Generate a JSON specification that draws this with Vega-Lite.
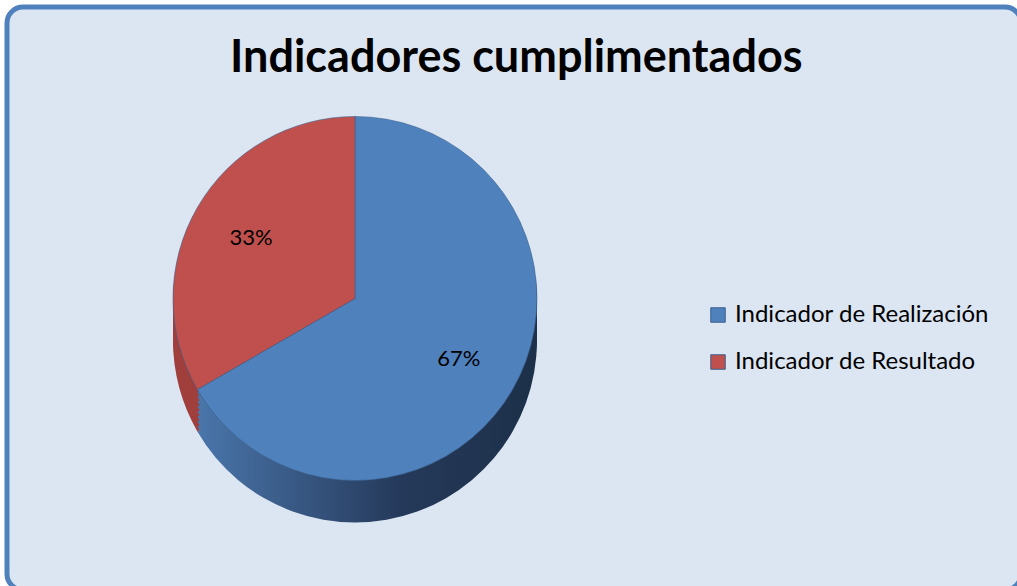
{
  "$schema": "https://vega.github.io/schema/vega-lite/v6.json",
  "width": 1014,
  "height": 583,
  "autosize": {"type": "none"},
  "padding": {"left": 7, "top": 7, "right": 0, "bottom": 0},
  "background": "#ffffff",
  "view": {"fill": "#dce6f2", "stroke": "#4f81bd", "strokeWidth": 5, "cornerRadius": 16},
  "config": {
    "view": {"fill": "#dce6f2", "stroke": "#4f81bd", "strokeWidth": 5, "cornerRadius": 16},
    "font": "Lato"
  },
  "title": {
    "text": "Indicadores cumplimentados",
    "font": "Lato",
    "fontSize": 45,
    "fontWeight": "bold",
    "color": "#000000",
    "anchor": "start",
    "orient": "top",
    "offset": -74,
    "dx": 223
  },
  "data": {
    "values": [
      {"indicador": "Indicador de Realización", "valor": 0.6667},
      {"indicador": "Indicador de Resultado", "valor": 0.3333}
    ]
  },
  "encoding": {
    "theta": {"field": "valor", "type": "quantitative", "stack": true},
    "order": {"field": "valor", "sort": "descending"}
  },
  "layer": [
    {
      "mark": {"type": "arc", "outerRadius": 182, "xOffset": -159, "yOffset": 42},
      "encoding": {"fill": {"condition": {"test": "datum.indicador === 'Indicador de Resultado'", "value": "#a03f3c"}, "value": {"gradient": "linear", "x1": 0, "x2": 1, "y1": 0, "y2": 0,
          "stops": [{"offset": 0, "color": "#4a76ab"}, {"offset": 0.6, "color": "#25395a"}, {"offset": 1, "color": "#1d3049"}]}}}
    },
    {
      "mark": {"type": "arc", "outerRadius": 182, "xOffset": -159, "yOffset": 37},
      "encoding": {"fill": {"condition": {"test": "datum.indicador === 'Indicador de Resultado'", "value": "#a03f3c"}, "value": {"gradient": "linear", "x1": 0, "x2": 1, "y1": 0, "y2": 0,
          "stops": [{"offset": 0, "color": "#4a76ab"}, {"offset": 0.6, "color": "#25395a"}, {"offset": 1, "color": "#1d3049"}]}}}
    },
    {
      "mark": {"type": "arc", "outerRadius": 182, "xOffset": -159, "yOffset": 32},
      "encoding": {"fill": {"condition": {"test": "datum.indicador === 'Indicador de Resultado'", "value": "#a03f3c"}, "value": {"gradient": "linear", "x1": 0, "x2": 1, "y1": 0, "y2": 0,
          "stops": [{"offset": 0, "color": "#4a76ab"}, {"offset": 0.6, "color": "#25395a"}, {"offset": 1, "color": "#1d3049"}]}}}
    },
    {
      "mark": {"type": "arc", "outerRadius": 182, "xOffset": -159, "yOffset": 27},
      "encoding": {"fill": {"condition": {"test": "datum.indicador === 'Indicador de Resultado'", "value": "#a03f3c"}, "value": {"gradient": "linear", "x1": 0, "x2": 1, "y1": 0, "y2": 0,
          "stops": [{"offset": 0, "color": "#4a76ab"}, {"offset": 0.6, "color": "#25395a"}, {"offset": 1, "color": "#1d3049"}]}}}
    },
    {
      "mark": {"type": "arc", "outerRadius": 182, "xOffset": -159, "yOffset": 22},
      "encoding": {"fill": {"condition": {"test": "datum.indicador === 'Indicador de Resultado'", "value": "#a03f3c"}, "value": {"gradient": "linear", "x1": 0, "x2": 1, "y1": 0, "y2": 0,
          "stops": [{"offset": 0, "color": "#4a76ab"}, {"offset": 0.6, "color": "#25395a"}, {"offset": 1, "color": "#1d3049"}]}}}
    },
    {
      "mark": {"type": "arc", "outerRadius": 182, "xOffset": -159, "yOffset": 17},
      "encoding": {"fill": {"condition": {"test": "datum.indicador === 'Indicador de Resultado'", "value": "#a03f3c"}, "value": {"gradient": "linear", "x1": 0, "x2": 1, "y1": 0, "y2": 0,
          "stops": [{"offset": 0, "color": "#4a76ab"}, {"offset": 0.6, "color": "#25395a"}, {"offset": 1, "color": "#1d3049"}]}}}
    },
    {
      "mark": {"type": "arc", "outerRadius": 182, "xOffset": -159, "yOffset": 12},
      "encoding": {"fill": {"condition": {"test": "datum.indicador === 'Indicador de Resultado'", "value": "#a03f3c"}, "value": {"gradient": "linear", "x1": 0, "x2": 1, "y1": 0, "y2": 0,
          "stops": [{"offset": 0, "color": "#4a76ab"}, {"offset": 0.6, "color": "#25395a"}, {"offset": 1, "color": "#1d3049"}]}}}
    },
    {
      "mark": {"type": "arc", "outerRadius": 182, "xOffset": -159, "yOffset": 7},
      "encoding": {"fill": {"condition": {"test": "datum.indicador === 'Indicador de Resultado'", "value": "#a03f3c"}, "value": {"gradient": "linear", "x1": 0, "x2": 1, "y1": 0, "y2": 0,
          "stops": [{"offset": 0, "color": "#4a76ab"}, {"offset": 0.6, "color": "#25395a"}, {"offset": 1, "color": "#1d3049"}]}}}
    },
    {
      "mark": {"type": "arc", "outerRadius": 182, "xOffset": -159, "yOffset": 3},
      "encoding": {"fill": {"condition": {"test": "datum.indicador === 'Indicador de Resultado'", "value": "#a03f3c"}, "value": {"gradient": "linear", "x1": 0, "x2": 1, "y1": 0, "y2": 0,
          "stops": [{"offset": 0, "color": "#4a76ab"}, {"offset": 0.6, "color": "#25395a"}, {"offset": 1, "color": "#1d3049"}]}}}
    },
    {
      "mark": {"type": "arc", "outerRadius": 182, "xOffset": -159, "yOffset": 0, "stroke": "#3b5f8c", "strokeWidth": 0.6},
      "encoding": {
        "color": {
          "field": "indicador",
          "type": "nominal",
          "scale": {"domain": ["Indicador de Realización", "Indicador de Resultado"], "range": ["#4f81bd", "#c0504d"]},
          "legend": {
            "title": null,
            "orient": "none",
            "legendX": 699,
            "legendY": 296,
            "symbolType": "square",
            "symbolSize": 210,
            "symbolStrokeWidth": 1,
            "labelFont": "Lato",
            "labelFontSize": 24,
            "labelColor": "#000000",
            "labelOffset": 5,
            "rowPadding": 23,
            "labelLimit": 400
          }
        }
      }
    },
    {
      "mark": {"type": "text", "radius": 120, "xOffset": -159, "yOffset": 0, "font": "Lato", "fontSize": 22, "color": "#000000"},
      "encoding": {"text": {"field": "valor", "type": "quantitative", "format": ".0%"}}
    }
  ]
}
